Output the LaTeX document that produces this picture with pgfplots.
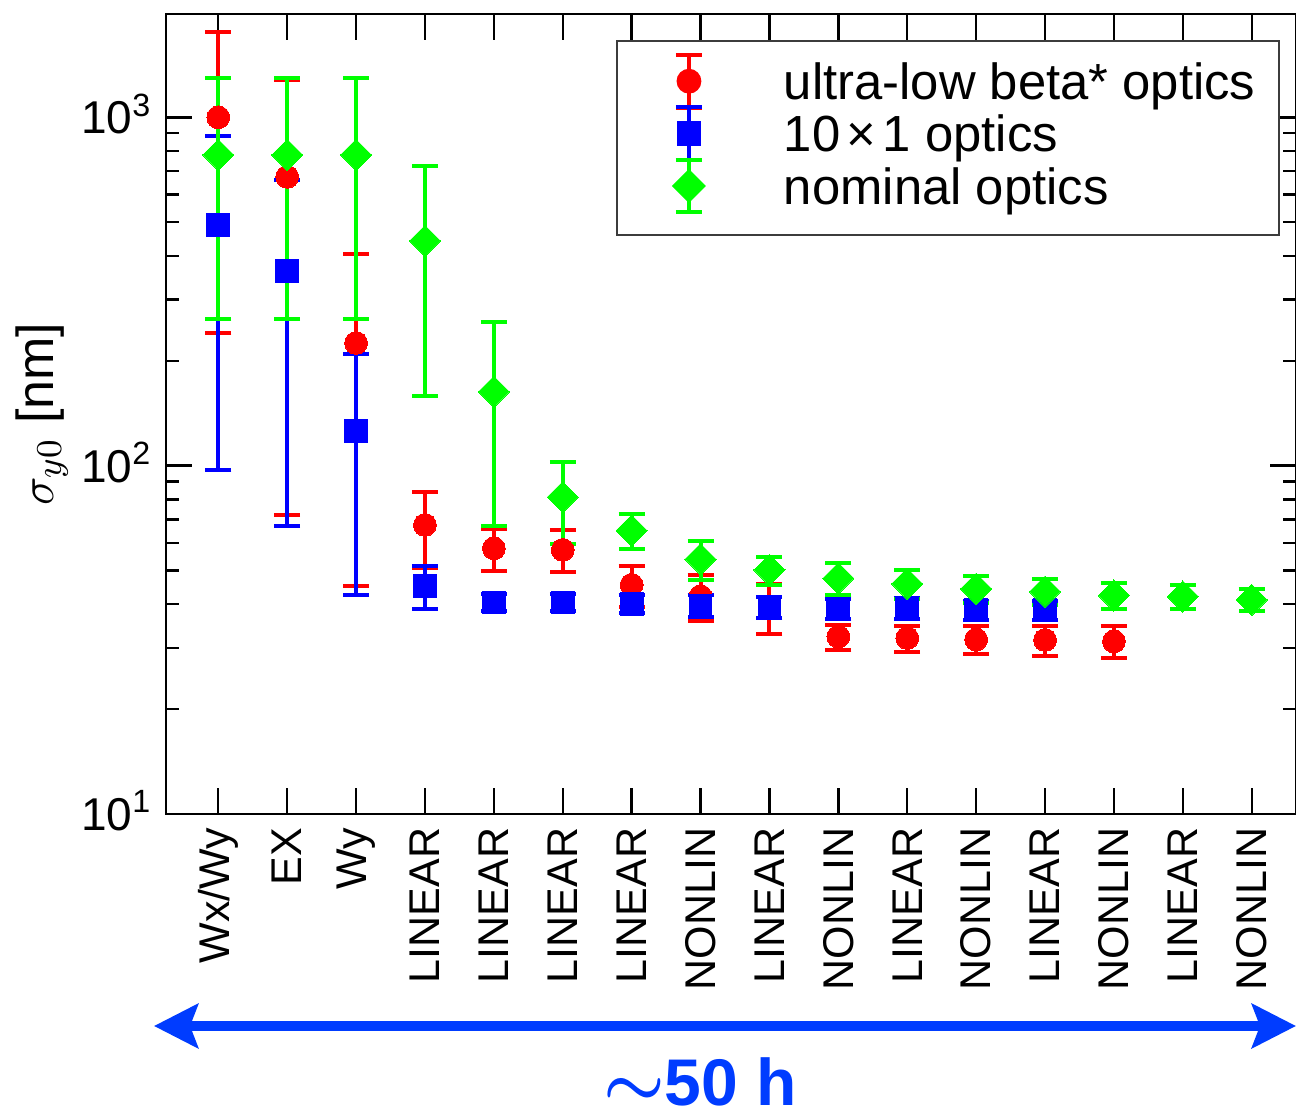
\documentclass[border=0pt]{standalone}
\usepackage{pgfplots}
\pgfplotsset{compat=1.18}
\usepackage{pgfplotstable}
\usepackage{fontspec}
\setmainfont{Liberation Sans}
\setsansfont{Liberation Sans}
\usetikzlibrary{arrows.meta,calc}
\definecolor{arrowblue}{RGB}{0,60,255}
\definecolor{legframe}{RGB}{60,60,60}

\pgfplotstableread{
x y e
0 1000 760
1 675 603
2 225 180
3 67.6 16.7
4 57.9 8.1
5 57.3 7.9
6 45.5 6.1
7 42.2 6.4
8 39.3 6.5
9 32.3 2.7
10 32.0 2.75
11 31.7 2.85
12 31.6 3.1
13 31.3 3.3
}\redtab
\pgfplotstableread{
x y e
0 491 394
1 363 296
2 125.8 83.3
3 45.2 6.35
4 40.5 2.35
5 40.5 2.35
6 40.1 2.3
7 39.6 2.8
8 39.3 2.8
9 38.9 2.65
10 39.1 2.7
11 38.5 2.4
12 38.5 2.4
}\bluetab
\pgfplotstableread{
x y e
0 780 516
1 780 516
2 780 516
3 442 284
4 163 96
5 81.2 21.5
6 65.1 7.4
7 53.9 6.9
8 50.2 4.65
9 47.5 5.05
10 45.8 4.35
11 44.3 4.0
12 43.5 3.7
13 42.4 3.6
14 42.1 3.35
15 41.2 3.0
}\greentab

\pgfplotsset{
  errplot/.style={forget plot, only marks, mark=none, #1,
    error bars/.cd, y dir=both, y explicit,
    error bar style={line width=1pt, #1},
    error mark=|, error mark options={#1, line width=1pt, mark size=3.25pt}},
}

\begin{document}
\begin{tikzpicture}
\begin{axis}[
  scale only axis,
  width=282.5pt, height=200pt,
  ymode=log,
  xmin=-0.759, xmax=15.643,
  ymin=10, ymax=1980,
  xtick={0,...,15},
  xticklabels={Wx/Wy,EX,Wy,LINEAR,LINEAR,LINEAR,LINEAR,NONLIN,LINEAR,NONLIN,LINEAR,NONLIN,LINEAR,NONLIN,LINEAR,NONLIN},
  xticklabel style={rotate=90, anchor=east, inner sep=0pt, font=\fontsize{10.75}{12}\selectfont},
  xticklabel shift=3.25pt,
  ytick={10,100,1000},
  yticklabels={10\textsuperscript{1},10\textsuperscript{2},10\textsuperscript{3}},
  minor ytick={20,30,40,50,60,70,80,90,200,300,400,500,600,700,800,900},
  yticklabel style={anchor=base east, inner sep=0pt, yshift=-4.1pt, font=\fontsize{11.5}{13}\selectfont},
  yticklabel shift=3.25pt,
  tick align=inside,
  major tick length=6.5pt,
  minor tick length=3.25pt,
  tick style={line width=0.6pt, black},
  axis line style={line width=0.6pt},
  ylabel={$\sigma_{y0}$ [nm]},
  every axis y label/.style={at={(axis description cs:-0.1097,0.5)}, rotate=90, anchor=center, font=\fontsize{13}{15}\selectfont},
  legend style={at={(0.3982,0.9675)}, anchor=north west, draw=legframe, line width=0.5pt,
    inner xsep=0pt, inner ysep=4.6pt, row sep=0pt, column sep=0pt,
    nodes={inner sep=0pt, text height=10pt, text depth=3.1pt},
    font=\fontsize{12.7}{15}\selectfont},
  legend cell align=left,
]
\coordinate (SW) at (rel axis cs:0,0);
\coordinate (NE) at (rel axis cs:1,1);

\addplot[errplot=red] table[x=x, y=y, y error=e] {\redtab};
\addplot[errplot=blue] table[x=x, y=y, y error=e] {\bluetab};
\addplot[errplot=green] table[x=x, y=y, y error=e] {\greentab};

\addplot[only marks, mark=*, mark size=2.85pt, mark options={fill=red, draw=red, line width=0pt},
  legend image code/.code={
    \begin{scope}[yshift=1.1pt]
    \draw[red, line width=1pt, overlay] (0pt,-6.6pt) -- (0pt,6.6pt) (-3.25pt,-6.6pt) -- (3.25pt,-6.6pt) (-3.25pt,6.6pt) -- (3.25pt,6.6pt);
    \fill[red, overlay] (0pt,0pt) circle (2.85pt);
    \end{scope}
    \path[draw=none, fill=none] (-18pt,-1pt) rectangle (23.75pt,1pt);
  }] table[x=x, y=y] {\redtab};
\addlegendentry{ultra-low beta* optics\hspace*{5.75pt}}

\addplot[only marks, mark=square*, mark size=2.85pt, mark options={fill=blue, draw=blue, line width=0pt},
  legend image code/.code={
    \begin{scope}[yshift=1.1pt]
    \draw[blue, line width=1pt, overlay] (0pt,-6.6pt) -- (0pt,6.6pt) (-3.25pt,-6.6pt) -- (3.25pt,-6.6pt) (-3.25pt,6.6pt) -- (3.25pt,6.6pt);
    \fill[blue, overlay] (-2.85pt,-2.85pt) rectangle (2.85pt,2.85pt);
    \end{scope}
    \path[draw=none, fill=none] (-18pt,-1pt) rectangle (23.75pt,1pt);
  }] table[x=x, y=y] {\bluetab};
\addlegendentry{10\hspace{1.6pt}×\hspace{1.6pt}1 optics}

\addplot[only marks, mark=square*, mark size=2.75pt, mark options={rotate=45, fill=green, draw=green, line width=0pt},
  legend image code/.code={
    \begin{scope}[yshift=1.1pt]
    \draw[green, line width=1pt, overlay] (0pt,-6.6pt) -- (0pt,6.6pt) (-3.25pt,-6.6pt) -- (3.25pt,-6.6pt) (-3.25pt,6.6pt) -- (3.25pt,6.6pt);
    \fill[green, overlay] (0pt,3.9pt) -- (3.9pt,0pt) -- (0pt,-3.9pt) -- (-3.9pt,0pt) -- cycle;
    \end{scope}
    \path[draw=none, fill=none] (-18pt,-1pt) rectangle (23.75pt,1pt);
  }] table[x=x, y=y] {\greentab};
\addlegendentry{nominal optics}
\end{axis}

\draw[arrowblue, line width=2.5pt, {Stealth[length=11pt,width=11pt,inset=2pt]}-{Stealth[length=11pt,width=11pt,inset=2pt]}]
  ($(SW)+(-3pt,-53pt)$) -- ($(SW -| NE)+(0pt,-53pt)$);
\node[anchor=base, text=arrowblue, inner sep=0pt, font=\fontsize{16.5}{18}\selectfont\bfseries]
  at ($(SW)+(133.5pt,-72.9pt)$) {{\boldmath$\sim$}50 h};

\pgfresetboundingbox
\useasboundingbox ($(SW)+(-41.5pt,-75.25pt)$) rectangle ($(NE)+(0pt,3.5pt)$);
\end{tikzpicture}
\end{document}
